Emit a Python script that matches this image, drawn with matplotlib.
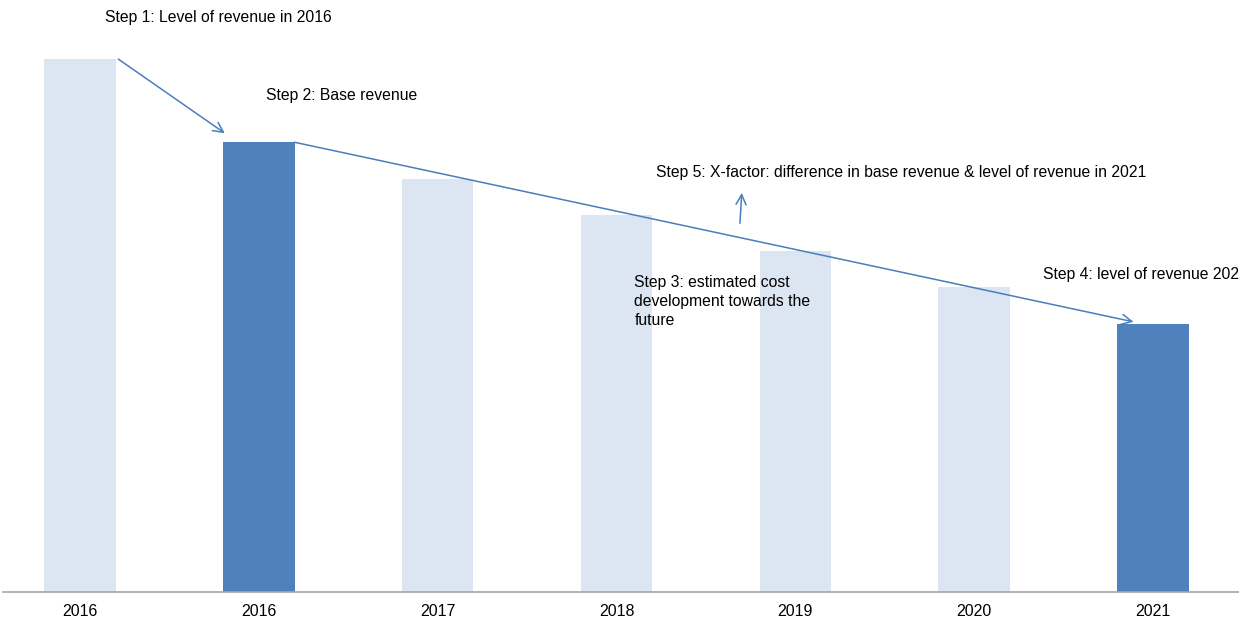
import matplotlib.pyplot as plt

plt.rcParams['font.family'] = ['Liberation Sans', 'DejaVu Sans']

#Bar data
years = ["2016", "2016", "2017", "2018", "2019", "2020", "2021"]
revenue = [100, 84.4, 77.6, 70.8, 64.0, 57.2, 50.3]
highlight = [False, True, False, False, False, False, True]

light = "#DCE6F2"
dark = "#4F81BD"
arrow_col = "#4A7EBB"
w = 0.4

fig = plt.figure(figsize=(12.39, 6.27), dpi=100)
ax = fig.add_axes([3 / 1239, 35 / 627, 1 - 3 / 1239, 1 - 35 / 627])

xs = list(range(len(years)))
colors = [dark if h else light for h in highlight]
ax.bar(xs, revenue, width=w, color=colors, zorder=2)

ax.set_xlim(-0.43, 6.48)
ax.set_ylim(0, 111.1)
ax.set_xticks(xs)
ax.set_xticklabels(years, fontsize=11.5)
ax.tick_params(axis='x', length=0, pad=9)
ax.set_yticks([])
for side in ['top', 'right', 'left']:
    ax.spines[side].set_visible(False)
ax.spines['bottom'].set_color("#A6A6A6")
ax.spines['bottom'].set_linewidth(1.2)

arrow = dict(arrowstyle="->", color=arrow_col, lw=1.1, mutation_scale=18,
             shrinkA=0, shrinkB=0)

#Step 1 -> base revenue
ax.annotate("", xy=(1 - 0.19, revenue[1] + 1.7), xytext=(0.215, revenue[0]),
            arrowprops=arrow)
#Base revenue -> 2021 level
ax.annotate("", xy=(6 - 0.11, revenue[6] + 0.4), xytext=(1 + w / 2, revenue[1]),
            arrowprops=arrow)
#X-factor pointer
ax.annotate("", xy=(3.70, 74.9), xytext=(3.69, 69.2), arrowprops=arrow)

fs = 11.3
ax.text(0.14, 107.9, "Step 1: Level of revenue in 2016", fontsize=fs, va='center')
ax.text(1.04, 93.1, "Step 2: Base revenue", fontsize=fs, va='center')
ax.text(3.22, 78.8, "Step 5: X-factor: difference in base revenue & level of revenue in 2021",
        fontsize=fs, va='center')
ax.text(3.10, 59.4, "Step 3: estimated cost\ndevelopment towards the\nfuture",
        fontsize=fs, va='top', linespacing=1.3)
ax.text(5.386, 59.5, "Step 4: level of revenue 2021", fontsize=fs, va='center',
        clip_on=False)

plt.savefig("out.png", dpi=100)
